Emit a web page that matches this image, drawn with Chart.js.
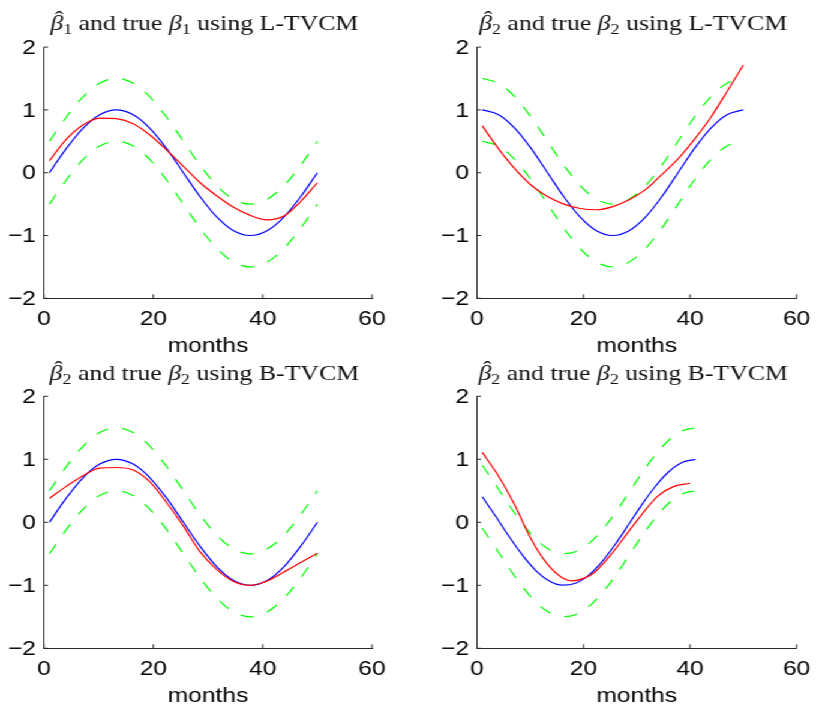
<!DOCTYPE html>
<html><head><meta charset="utf-8">
<script src="https://cdn.jsdelivr.net/npm/chart.js@4.4.1/dist/chart.umd.min.js"></script>
<style>
html,body{margin:0;padding:0;background:#fff;overflow:hidden;}
#wrap{position:absolute;left:0;top:0;width:684px;height:709px;transform:scaleX(1.2);transform-origin:0 0;}
#wrap canvas{position:absolute;}
</style></head><body>
<div id="wrap">
<canvas id="c0" width="342" height="362" style="left:0;top:0;width:342px;height:362px"></canvas>
<canvas id="c1" width="342" height="362" style="left:342px;top:0;width:342px;height:362px"></canvas>
<canvas id="c2" width="342" height="354" style="left:0;top:355px;width:342px;height:354px"></canvas>
<canvas id="c3" width="342" height="354" style="left:342px;top:355px;width:342px;height:354px"></canvas>
</div>
<script>
// ---- data ----
const xTickValues = [0, 20, 40, 60];
const xTickLabels = ['0', '20', '40', '60'];
const yTickValues = [-2, -1, 0, 1, 2];
const yTickLabels = ['\u22122', '\u22121', '0', '1', '2'];
const titles = [
  '\u03B2\u0302\u2081 and true \u03B2\u2081 using L-TVCM',
  '\u03B2\u0302\u2082 and true \u03B2\u2082 using L-TVCM',
  '\u03B2\u0302\u2082 and true \u03B2\u2082 using B-TVCM',
  '\u03B2\u0302\u2082 and true \u03B2\u2082 using B-TVCM'
];
const xAxisTitle = 'months';

// months grid for panels 1-3
const monthsA = [1, 4.06, 7.13, 10.19, 13.25, 16.31, 19.38, 22.44, 25.5, 28.56, 31.63, 34.69, 37.75, 40.81, 43.88, 46.94, 50];

// panel 1: beta1, L-TVCM
const trueB1L  = [0, 0.383, 0.707, 0.924, 1, 0.924, 0.707, 0.383, 0, -0.383, -0.707, -0.924, -1, -0.924, -0.707, -0.383, 0];
const upperB1L = [0.5, 0.883, 1.207, 1.424, 1.5, 1.424, 1.207, 0.883, 0.5, 0.117, -0.207, -0.424, -0.5, -0.424, -0.207, 0.117, 0.5];
const lowerB1L = [-0.5, -0.117, 0.207, 0.424, 0.5, 0.424, 0.207, -0.117, -0.5, -0.883, -1.207, -1.424, -1.5, -1.424, -1.207, -0.883, -0.5];
const estB1L   = [0.19, 0.53, 0.76, 0.87, 0.86, 0.78, 0.60, 0.36, 0.10, -0.16, -0.37, -0.55, -0.68, -0.75, -0.69, -0.46, -0.16];

// panel 2: beta2, L-TVCM
const trueB2L  = [1, 0.924, 0.707, 0.383, 0, -0.383, -0.707, -0.924, -1, -0.924, -0.707, -0.383, 0, 0.383, 0.707, 0.924, 1];
const upperB2L = [1.5, 1.424, 1.207, 0.883, 0.5, 0.117, -0.207, -0.424, -0.5, -0.424, -0.207, 0.117, 0.5, 0.883, 1.207, 1.424, 1.5];
const lowerB2L = [0.5, 0.424, 0.207, -0.117, -0.5, -0.883, -1.207, -1.424, -1.5, -1.424, -1.207, -0.883, -0.5, -0.117, 0.207, 0.424, 0.5];
const estB2L   = [0.745, 0.38, 0.06, -0.2, -0.38, -0.50, -0.57, -0.59, -0.54, -0.43, -0.27, -0.03, 0.22, 0.53, 0.88, 1.29, 1.715];

// panel 3: beta2 (sine), B-TVCM
const trueB2B  = [0, 0.383, 0.707, 0.924, 1, 0.924, 0.707, 0.383, 0, -0.383, -0.707, -0.924, -1, -0.924, -0.707, -0.383, 0];
const upperB2B = [0.5, 0.883, 1.207, 1.424, 1.5, 1.424, 1.207, 0.883, 0.5, 0.117, -0.207, -0.424, -0.5, -0.424, -0.207, 0.117, 0.5];
const lowerB2B = [-0.5, -0.117, 0.207, 0.424, 0.5, 0.424, 0.207, -0.117, -0.5, -0.883, -1.207, -1.424, -1.5, -1.424, -1.207, -0.883, -0.5];
const estB2B   = [0.38, 0.57, 0.74, 0.86, 0.87, 0.83, 0.64, 0.31, -0.06, -0.47, -0.75, -0.94, -1.0, -0.93, -0.79, -0.64, -0.49];

// panel 4: beta2, B-TVCM (shorter series)
const monthsB    = [1, 3.5, 6, 8.5, 11, 13.5, 16, 18.5, 21, 23.5, 26, 28.5, 31, 33.5, 36, 38.5, 41];
const trueB2B4   = [0.405, 0.096, -0.223, -0.518, -0.762, -0.927, -0.998, -0.967, -0.838, -0.624, -0.345, -0.032, 0.285, 0.572, 0.802, 0.949, 1.0];
const upperB2B4  = [0.905, 0.596, 0.277, -0.018, -0.262, -0.427, -0.498, -0.467, -0.338, -0.124, 0.155, 0.468, 0.785, 1.072, 1.302, 1.449, 1.5];
const lowerB2B4  = [-0.095, -0.404, -0.723, -1.018, -1.262, -1.427, -1.498, -1.467, -1.338, -1.124, -0.845, -0.532, -0.215, 0.072, 0.302, 0.449, 0.5];
const monthsBest = [1, 4, 7, 10, 13, 16, 18, 20, 22, 25, 28, 31, 34, 37, 40];
const estB2B4    = [1.11, 0.74, 0.29, -0.24, -0.64, -0.88, -0.93, -0.89, -0.80, -0.53, -0.20, 0.13, 0.42, 0.57, 0.62];

// ---- styling / layout ----
const SANS = '"Liberation Sans", Arial, sans-serif';
const SERIF = '"Liberation Serif", "Times New Roman", serif';
const AXIS = '#2a2a2a';
const DASH = [11, 12];

const panels = [
  {id:'c0', title:titles[0], months:monthsA, estMonths:monthsA, est:estB1L, truth:trueB1L, upper:upperB1L, lower:lowerB1L, yW:36.67, padR:32, padT:47.1, xH:63.7, titleY:30, xTitlePad:3.8},
  {id:'c1', title:titles[1], months:monthsA, estMonths:monthsA, est:estB2L, truth:trueB2L, upper:upperB2L, lower:lowerB2L, yW:55.5, padR:12.33, padT:47.1, xH:63.7, titleY:30, xTitlePad:3.8},
  {id:'c2', title:titles[2], months:monthsA, estMonths:monthsA, est:estB2B, truth:trueB2B, upper:upperB2B, lower:lowerB2B, yW:36.67, padR:32, padT:41.3, xH:60.7, titleY:25, xTitlePad:0},
  {id:'c3', title:titles[3], months:monthsB, estMonths:monthsBest, est:estB2B4, truth:trueB2B4, upper:upperB2B4, lower:lowerB2B4, yW:55.5, padR:12.33, padT:41.3, xH:60.7, titleY:25, xTitlePad:0}
];

function labelFor(values, labels, v) {
  const i = values.indexOf(v);
  return i >= 0 ? labels[i] : '';
}

const inwardTicks = {
  id: 'inwardTicks',
  afterDatasetsDraw(chart) {
    const {ctx, chartArea} = chart;
    const x = chart.scales.x, y = chart.scales.y;
    ctx.save();
    ctx.strokeStyle = AXIS;
    ctx.lineWidth = 1;
    ctx.beginPath();
    x.ticks.forEach(t => {
      const px = x.getPixelForValue(t.value);
      ctx.moveTo(px, chartArea.bottom);
      ctx.lineTo(px, chartArea.bottom - 4);
    });
    y.ticks.forEach(t => {
      const py = y.getPixelForValue(t.value);
      ctx.moveTo(chartArea.left, py);
      ctx.lineTo(chartArea.left + 3.4, py);
    });
    ctx.stroke();
    ctx.restore();
  }
};

const SUBS = '\u2080\u2081\u2082\u2083\u2084\u2085\u2086\u2087\u2088\u2089';
function parseTitle(s) {
  const runs = [];
  for (const ch of s) {
    if (ch === '\u0302') { runs[runs.length - 1].hat = true; continue; }
    const si = SUBS.indexOf(ch);
    if (si >= 0) runs.push({t: String(si), kind: 'sub'});
    else if (ch === '\u03B2') runs.push({t: ch, kind: 'it'});
    else {
      const last = runs[runs.length - 1];
      if (last && last.kind === 'rm') last.t += ch; else runs.push({t: ch, kind: 'rm'});
    }
  }
  return runs;
}

const mathTitle = {
  id: 'mathTitle',
  afterDraw(chart, args, opts) {
    const ctx = chart.ctx;
    const size = opts.size;
    const runs = parseTitle(opts.text);
    const fontFor = k => k === 'it' ? `italic ${size}px ${SERIF}` : (k === 'sub' ? `${size * 0.7}px ${SERIF}` : `${size}px ${SERIF}`);
    let total = 0;
    runs.forEach(r => { ctx.font = fontFor(r.kind); r.w = ctx.measureText(r.t).width; total += r.w; });
    let x = (chart.chartArea.left + chart.chartArea.right) / 2 + opts.dx - total / 2;
    ctx.save();
    ctx.fillStyle = '#111';
    ctx.textBaseline = 'alphabetic';
    runs.forEach(r => {
      ctx.font = fontFor(r.kind);
      ctx.textAlign = 'left';
      const yy = opts.y + (r.kind === 'sub' ? size * 0.2 : 0);
      ctx.fillText(r.t, x, yy);
      if (r.hat) {
        ctx.font = `${size}px ${SERIF}`;
        ctx.textAlign = 'center';
        ctx.fillText('\u02C6', x + r.w / 2 + size * 0.1, yy - size * 0.2);
      }
      x += r.w;
    });
    ctx.restore();
  }
};

function pts(xs, ys) { return xs.map((x, i) => ({x: x, y: ys[i]})); }
function series(data, color, dash) {
  return {data: data, borderColor: color, borderWidth: 1.2, borderDash: dash || [], pointRadius: 0,
          fill: false, cubicInterpolationMode: 'monotone'};
}

function makeChart(p) {
  new Chart(document.getElementById(p.id), {
    type: 'line',
    data: {datasets: [
      series(pts(p.estMonths, p.est), '#ff0000'),
      series(pts(p.months, p.truth), '#0000ff'),
      series(pts(p.months, p.upper), '#00ff00', DASH),
      series(pts(p.months, p.lower), '#00ff00', DASH)
    ]},
    options: {
      responsive: false, animation: false, events: [],
      layout: {padding: {left: 0, right: p.padR, top: p.padT, bottom: 0}},
      plugins: {
        legend: {display: false}, tooltip: {enabled: false}, title: {display: false},
        mathTitle: {text: p.title, y: p.titleY, size: 21.5, dx: -3}
      },
      scales: {
        x: {
          type: 'linear', min: 0, max: 60,
          grid: {display: false, drawTicks: false},
          border: {display: true, color: AXIS, width: 1},
          ticks: {stepSize: 20, padding: 8.8, maxRotation: 0, autoSkip: false, color: '#000',
                  font: {family: SANS, size: 20.5},
                  callback: v => labelFor(xTickValues, xTickLabels, v)},
          title: {display: true, text: xAxisTitle, color: '#000', font: {family: SANS, size: 20.5},
                  padding: {top: 0, bottom: p.xTitlePad}},
          afterFit: s => { s.height = p.xH; }
        },
        y: {
          type: 'linear', min: -2, max: 2,
          grid: {display: false, drawTicks: false},
          border: {display: true, color: AXIS, width: 1},
          ticks: {stepSize: 1, padding: 6.67, labelOffset: 1, color: '#000',
                  font: {family: SANS, size: 20.5},
                  callback: v => labelFor(yTickValues, yTickLabels, v)},
          afterFit: s => { s.width = p.yW; }
        }
      }
    },
    plugins: [inwardTicks, mathTitle]
  });
}

panels.forEach(makeChart);
</script>
</body></html>
